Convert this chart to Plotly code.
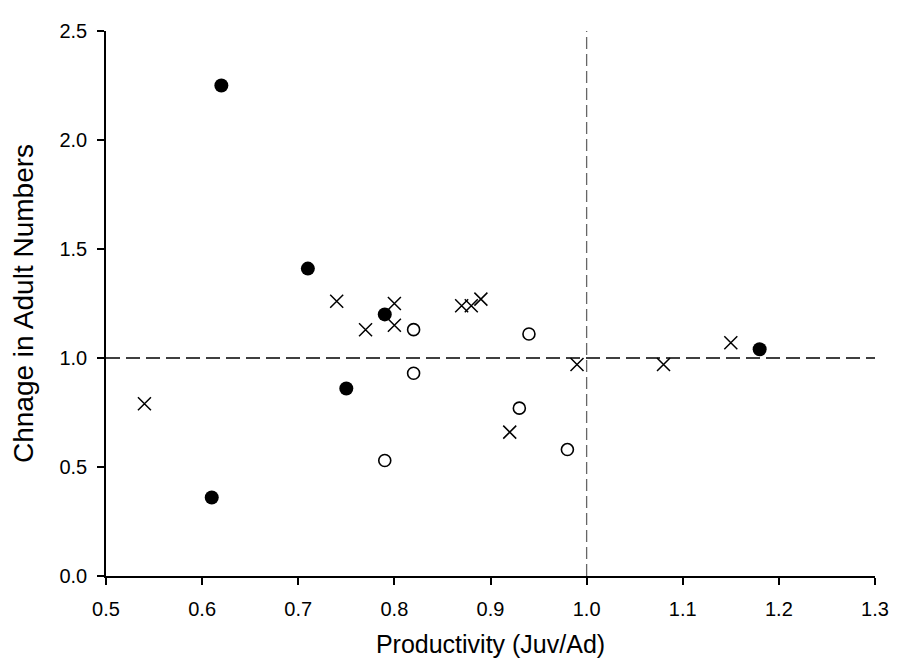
import plotly.graph_objects as go

# Filled circles
filled_x = [0.62, 0.71, 0.75, 0.61, 0.79, 1.18]
filled_y = [2.25, 1.41, 0.86, 0.36, 1.20, 1.04]

# Open circles
open_x = [0.82, 0.82, 0.79, 0.94, 0.93, 0.98]
open_y = [1.13, 0.93, 0.53, 1.11, 0.77, 0.58]

# Crosses
cross_x = [0.54, 0.74, 0.77, 0.80, 0.80, 0.87, 0.88, 0.89, 0.92, 0.99, 1.08, 1.15]
cross_y = [0.79, 1.26, 1.13, 1.25, 1.15, 1.24, 1.24, 1.27, 0.66, 0.97, 0.97, 1.07]

x_range = [0.5, 1.3]
y_range = [0.0, 2.5]
x_ticks = [0.5, 0.6, 0.7, 0.8, 0.9, 1.0, 1.1, 1.2, 1.3]
y_ticks = [0.0, 0.5, 1.0, 1.5, 2.0, 2.5]
ref_x = 1.0
ref_y = 1.0

FONT = "Liberation Sans, Arial, sans-serif"

fig = go.Figure()

# reference lines
fig.add_trace(go.Scatter(x=x_range, y=[ref_y, ref_y], mode="lines",
                         line=dict(color="black", width=1.6, dash="14px,6px"),
                         hoverinfo="skip", showlegend=False))
fig.add_trace(go.Scatter(x=[ref_x, ref_x], y=y_range, mode="lines",
                         line=dict(color="#666666", width=1.3, dash="12px,5px"),
                         hoverinfo="skip", showlegend=False))

fig.add_trace(go.Scatter(x=filled_x, y=filled_y, mode="markers",
                         marker=dict(symbol="circle", size=14, color="black",
                                     line=dict(width=0)),
                         showlegend=False))
fig.add_trace(go.Scatter(x=open_x, y=open_y, mode="markers",
                         marker=dict(symbol="circle-open", size=12, color="black",
                                     line=dict(width=1.6, color="black")),
                         showlegend=False))
fig.add_trace(go.Scatter(x=cross_x, y=cross_y, mode="markers",
                         marker=dict(symbol="x-thin-open", size=13, color="black",
                                     line=dict(width=1.5, color="black")),
                         showlegend=False))

# page has an 8px body margin, so the figure is 8px smaller and margins shifted
fig.update_layout(
    width=893, height=662,
    margin=dict(l=98, r=20, t=12, b=94),
    paper_bgcolor="white", plot_bgcolor="white",
    font=dict(family=FONT, size=20, color="black"),
)

fig.update_xaxes(
    range=x_range, tickvals=x_ticks, ticktext=[f"{v:.1f}" for v in x_ticks],
    showline=True, linecolor="black", linewidth=1.5,
    ticks="outside", ticklen=7, tickwidth=1.5, tickcolor="black",
    showgrid=False, zeroline=False, ticklabelstandoff=7,
    tickfont=dict(family=FONT, size=20),
    title=dict(text="Productivity (Juv/Ad)", font=dict(family=FONT, size=25), standoff=17),
)
fig.update_yaxes(
    range=y_range, tickvals=y_ticks, ticktext=[f"{v:.1f}" for v in y_ticks],
    showline=True, linecolor="black", linewidth=1.5,
    ticks="outside", ticklen=7, tickwidth=1.5, tickcolor="black",
    showgrid=False, zeroline=False, ticklabelstandoff=6,
    tickfont=dict(family=FONT, size=20),
    title=dict(text="Chnage in Adult Numbers", font=dict(family=FONT, size=28), standoff=20),
)

fig.write_html("out.html")
